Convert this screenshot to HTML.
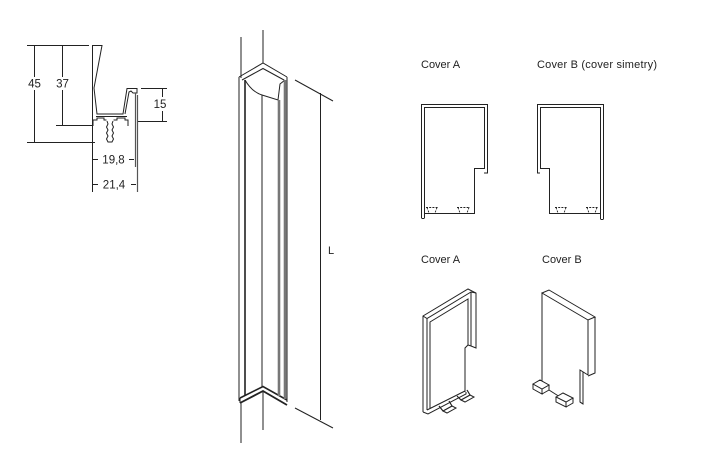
<!DOCTYPE html>
<html><head><meta charset="utf-8"><style>
html,body{margin:0;padding:0;background:#fff;}
svg{display:block;}
text{font-family:"Liberation Sans",Arial,sans-serif;fill:#222;}
</style></head><body>
<svg width="721" height="471" viewBox="0 0 721 471" xmlns="http://www.w3.org/2000/svg">
<rect width="721" height="471" fill="#fff"/>

<!-- ===== Left profile with dimensions ===== -->
<g fill="none" stroke="#222" stroke-width="1">
  <path d="M27,45.5H89 M27,142.5H95 M34.5,45V77 M34.5,90V142 M62.5,45V77 M62.5,90V125 M56,125.5H92"/>
  <path d="M141,88.5H167 M137,121.5H167 M162.5,88V97 M162.5,111V121"/>
  <path d="M93,159.5H98 M129,159.5H134 M93,184.5H98 M131,184.5H136"/>
  <path d="M92.5,45V192"/>
  <path d="M92.5,45.5H102L94,88L97,114H123L127,88.5H137V93H133L131,91L129,92L125,114"/>
  <path d="M96,116.5H127"/>
  <path d="M93,126V120H97V118H104V120H106.5 M113.5,120H117V118H125V120H128V126"/>
  <path d="M107,121L108,124L106.5,127L108,130L106.5,133L108,136L106.5,139L108,142H112L113.5,139L112,136L113.5,133L112,130L113.5,127L112,124L113,121"/>
</g>
<g fill="none" stroke="#555" stroke-width="1.2">
  <path d="M135.5,93V167 M137.5,95V192"/>
</g>
<g font-size="11.5" text-anchor="middle">
  <text x="34.5" y="87.5">45</text>
  <text x="62.5" y="87.5">37</text>
  <text x="160" y="108">15</text>
  <text x="113.5" y="163.5">19,8</text>
  <text x="114" y="188.5">21,4</text>
</g>

<!-- ===== Main corner profile ===== -->
<g fill="none" stroke="#222" stroke-width="1">
  <path d="M241,37V78 M241,403V443 M263,30V63 M263,391V430"/>
  <path d="M239,77L263,63L287,77"/>
  <path d="M242,80L263,68.5L284,80"/>
  <path d="M245,80Q252,92 262,95L278,100L280,84L285,80"/>
  <path d="M239,77V401 M262,95V387"/>
  <path d="M287,77V402"/>
  <path d="M240,398L263,386.5L287,400" stroke-width="1.6"/>
  <path d="M240,403L263,391L287,405" stroke-width="1.8"/>
  <path d="M240,398V403"/>
  <path d="M295,80L333,101 M320.5,93V420 M295,408L333,428"/>
</g>
<path d="M245,80V396" stroke="#222" stroke-width="1.6" fill="none"/>
<path d="M279,100V396" stroke="#777" stroke-width="2.6" fill="none"/>
<path d="M285,80V399" stroke="#777" stroke-width="2.6" fill="none"/>
<text x="331" y="254" font-size="11" text-anchor="middle">L</text>

<!-- ===== Cover A flat ===== -->
<g fill="none" stroke="#222" stroke-width="1">
  <path d="M421.5,218V104.5H487.5V173H484"/>
  <path d="M424.5,218V107.5H484.5V168.5H474.5V213.5H424.5"/>
  <path d="M421.5,218.5H424.5"/>
</g>
<g fill="none" stroke="#222" stroke-width="0.9" stroke-dasharray="2,1.2">
  <path d="M426,207.5H438 M427,207.5L429,213 M437,207.5L435,213"/>
  <path d="M457,207.5H470 M458,207.5L460,213 M469,207.5L467,213"/>
</g>
<text x="421" y="68" font-size="11">Cover A</text>

<!-- ===== Cover B flat ===== -->
<g fill="none" stroke="#222" stroke-width="1">
  <path d="M603.5,219V104.5H537.5V173H540"/>
  <path d="M600.5,219V107.5H540.5V168.5H549.5V213.5H600.5"/>
  <path d="M600.5,219.5H603.5"/>
</g>
<g fill="none" stroke="#222" stroke-width="0.9" stroke-dasharray="2,1.2">
  <path d="M555,207.5H567 M556,207.5L558,213 M566,207.5L564,213"/>
  <path d="M586,207.5H598 M587,207.5L589,213 M597,207.5L595,213"/>
</g>
<text x="537" y="68" font-size="11" textLength="120" lengthAdjust="spacing">Cover B (cover simetry)</text>

<!-- ===== Cover A 3D ===== -->
<g fill="none" stroke="#222" stroke-width="1">
  <path d="M423,412V316L468,289L476,293V348L471,346"/>
  <path d="M423,316L427,318.5L471,292L476,293"/>
  <path d="M427,318.5V410"/>
  <path d="M430,408V322L468,299V345"/>
  <path d="M471,292V346"/>
  <path d="M471,346L468,345L465,348V392"/>
  <path d="M423,412L428,414L466,394V392"/>
  <path d="M427,410L465,391"/>
  <path d="M439,406L443,411L452,406L449,401" stroke-width="1.2"/>
  <path d="M443,411L447,413L456,408L452,406"/>
  <path d="M457,396L461,400L470,395L467,390" stroke-width="1.2"/>
  <path d="M461,400L465,402L474,397L470,395"/>
</g>
<text x="421" y="263" font-size="11">Cover A</text>

<!-- ===== Cover B 3D ===== -->
<g fill="none" stroke="#222" stroke-width="1">
  <path d="M542,293L549,290L595,317L588,320Z"/>
  <path d="M542,293V385 M588,320V375 M595,317V373L588,376"/>
  <path d="M588,375L580,370V402L583,404V372"/>
  <path d="M583,404L580,402"/>
  <path d="M549,390L560,397"/>
  <path d="M533,384L540,380L549,385L542,389Z" fill="#fff"/>
  <path d="M533,384V389L542,394V389 M542,394L549,390V385"/>
  <path d="M556,397L563,393L573,398L566,402Z" fill="#fff"/>
  <path d="M556,397V402L566,407V402 M566,407L573,403V398"/>
</g>
<text x="542" y="263" font-size="11">Cover B</text>
</svg>
</body></html>
